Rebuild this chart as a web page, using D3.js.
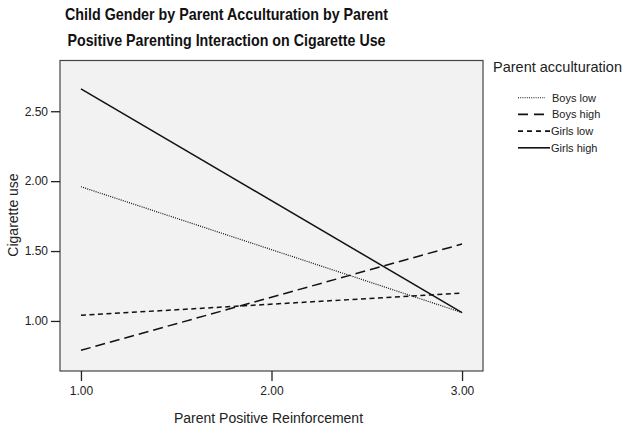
<!DOCTYPE html>
<html>
<head>
<meta charset="utf-8">
<script src="https://cdn.jsdelivr.net/npm/d3@7"></script>
<style>
  body { margin: 0; background: #fff; }
  svg { display: block; font-family: Arial, "Liberation Sans", sans-serif; }
</style>
</head>
<body>
<svg id="chart" width="624" height="429"></svg>
<script>
// ---- Data ----
const xValues = [1, 3];
const seriesNames = ["Boys low", "Boys high", "Girls low", "Girls high"];
const boysLow = [1.96, 1.06];
const boysHigh = [0.79, 1.55];
const girlsLow = [1.04, 1.20];
const girlsHigh = [2.66, 1.06];
const xTicks = [1, 2, 3];
const yTicks = [1.0, 1.5, 2.0, 2.5];
const titleLines = ["Child Gender by Parent Acculturation by Parent",
                    "Positive Parenting Interaction on Cigarette Use"];

const seriesValues = [boysLow, boysHigh, girlsLow, girlsHigh];
const dashes = ["1,1.2", "10,5", "5,3.5", null];
const widths = [1.2, 1.5, 1.5, 1.5];

const svg = d3.select("#chart");
const plotL = 60, plotR = 483, plotT = 60.5, plotB = 371;

const x = d3.scaleLinear().domain([0.890, 3.110]).range([plotL, plotR]);
const y = d3.scaleLinear().domain([0.642, 2.863]).range([plotB, plotT]);

// Title
const titleLens = [323, 318];
titleLines.forEach((t, i) => {
  svg.append("text")
    .attr("x", 226.5).attr("y", 19.5 + i * 26)
    .attr("text-anchor", "middle")
    .attr("font-size", 17).attr("font-weight", "bold")
    .attr("textLength", titleLens[i]).attr("lengthAdjust", "spacingAndGlyphs")
    .attr("fill", "#111")
    .text(t);
});

// Plot background
svg.append("rect")
  .attr("x", plotL).attr("y", plotT)
  .attr("width", plotR - plotL).attr("height", plotB - plotT)
  .attr("fill", "#f2f2f2").attr("stroke", "#444").attr("stroke-width", 1.2);

// Axes
const xAxis = d3.axisBottom(x).tickValues(xTicks).tickFormat(d3.format(".2f")).tickSize(10).tickSizeOuter(0);
const gx = svg.append("g").attr("transform", `translate(0,${plotB})`).call(xAxis);
gx.select(".domain").remove();
gx.selectAll(".tick line").attr("stroke", "#222").attr("stroke-width", 1.3);
gx.selectAll(".tick text").attr("font-size", 12).attr("fill", "#222").attr("dy", null).attr("y", 23.5)
  .attr("font-family", "Arial, 'Liberation Sans', sans-serif");

const yAxis = d3.axisLeft(y).tickValues(yTicks).tickFormat(d3.format(".2f")).tickSize(9).tickSizeOuter(0).tickPadding(3);
const gy = svg.append("g").attr("transform", `translate(${plotL},0)`).call(yAxis);
gy.select(".domain").remove();
gy.selectAll(".tick line").attr("stroke", "#222").attr("stroke-width", 1.3);
gy.selectAll(".tick text").attr("font-size", 12).attr("fill", "#222")
  .attr("font-family", "Arial, 'Liberation Sans', sans-serif");

// Axis titles
svg.append("text")
  .attr("x", 268.5).attr("y", 422.5)
  .attr("text-anchor", "middle").attr("font-size", 14).attr("fill", "#222")
  .text("Parent Positive Reinforcement");
svg.append("text")
  .attr("transform", "translate(18,215) rotate(-90)")
  .attr("text-anchor", "middle").attr("font-size", 14).attr("fill", "#222")
  .text("Cigarette use");

// Lines
const line = d3.line().x((d, i) => x(xValues[i])).y(d => y(d));
seriesValues.forEach((vals, i) => {
  svg.append("path")
    .datum(vals)
    .attr("d", line)
    .attr("fill", "none")
    .attr("stroke", "#111")
    .attr("stroke-width", widths[i])
    .attr("stroke-dasharray", dashes[i]);
});

// Legend
svg.append("text")
  .attr("x", 493).attr("y", 72)
  .attr("font-size", 14.5).attr("fill", "#222")
  .text("Parent acculturation");

const legendSampleEnd = [545, 544, 550, 550];
const legendTextX = [552, 552, 551, 551];
seriesNames.forEach((name, i) => {
  const cy = 97.7 + i * 16.7;
  svg.append("line")
    .attr("x1", 518).attr("x2", legendSampleEnd[i])
    .attr("y1", cy).attr("y2", cy)
    .attr("stroke", "#111")
    .attr("stroke-width", i === 0 ? 1.1 : 1.6)
    .attr("stroke-dasharray", i === 1 ? "10,6" : (i === 2 ? "5,4" : dashes[i]));
  svg.append("text")
    .attr("x", legendTextX[i]).attr("y", cy + 4)
    .attr("font-size", 11).attr("fill", "#222")
    .text(name);
});
</script>
</body>
</html>
